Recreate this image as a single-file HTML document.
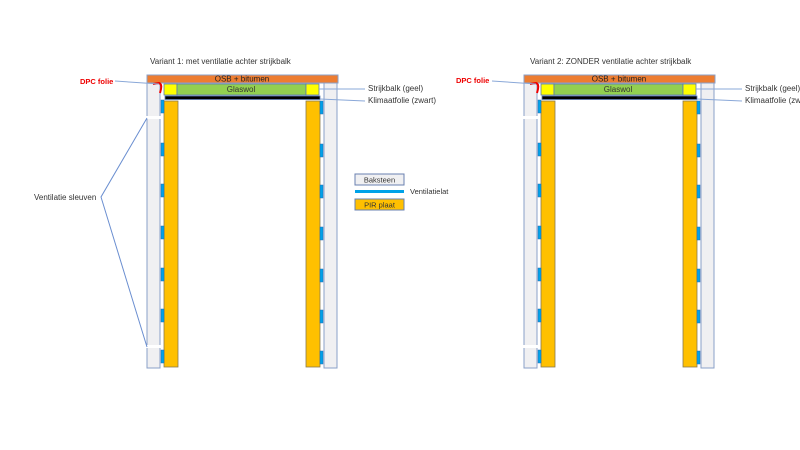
<!DOCTYPE html>
<html><head><style>body{margin:0;background:#fff}svg{display:block}text{font-family:"Liberation Sans",sans-serif}</style></head><body>
<svg width="800" height="450" viewBox="0 0 800 450" xmlns="http://www.w3.org/2000/svg">
<defs>
<g id="v">
<rect x="147" y="83" width="13" height="285" fill="#f0f0f2" stroke="#8aa0c8" stroke-width="1"/>
<rect x="324" y="83" width="13" height="285" fill="#f0f0f2" stroke="#8aa0c8" stroke-width="1"/>
<rect x="147" y="75" width="191" height="8" fill="#ed7d31" stroke="#8aa0c8" stroke-width="1"/>
<rect x="164" y="84" width="13" height="11" fill="#ffff00" stroke="#5a7ab0" stroke-width="0.8"/>
<rect x="177" y="84" width="129" height="11" fill="#92d050" stroke="#5a7ab0" stroke-width="0.8"/>
<rect x="306" y="84" width="13" height="11" fill="#ffff00" stroke="#5a7ab0" stroke-width="0.8"/>
<rect x="165" y="96" width="155" height="3.5" fill="#000" stroke="#5a7ab0" stroke-width="0.8"/>
<rect x="164" y="101" width="14" height="266" fill="#ffc000" stroke="#8a7a50" stroke-width="0.8"/>
<rect x="306" y="101" width="14" height="266" fill="#ffc000" stroke="#8a7a50" stroke-width="0.8"/>
<g fill="#00a2e8" stroke="#2a6ab0" stroke-width="0.5">
<rect x="161" y="100" width="3" height="13"/><rect x="161" y="143" width="3" height="13"/><rect x="161" y="184" width="3" height="13"/><rect x="161" y="226" width="3" height="13"/><rect x="161" y="268" width="3" height="13"/><rect x="161" y="309" width="3" height="13"/><rect x="161" y="350" width="3" height="13"/>
<rect x="320" y="101" width="3" height="13"/><rect x="320" y="144" width="3" height="13"/><rect x="320" y="185" width="3" height="13"/><rect x="320" y="227" width="3" height="13"/><rect x="320" y="269" width="3" height="13"/><rect x="320" y="310" width="3" height="13"/><rect x="320" y="351" width="3" height="13"/>
</g>
<rect x="146" y="116" width="16" height="3" fill="#fff"/>
<rect x="146" y="345" width="16" height="3" fill="#fff"/>
<path d="M153 84 L159 83 Q162 84 161 89 L160 93" fill="none" stroke="#e00" stroke-width="2"/>
<line x1="115" y1="81" x2="159" y2="84" stroke="#8aa8d8" stroke-width="1"/>
<line x1="319" y1="89" x2="365" y2="89" stroke="#8aa8d8" stroke-width="1"/>
<line x1="320" y1="99" x2="365" y2="101" stroke="#8aa8d8" stroke-width="1"/>
</g>
</defs>
<use href="#v"/>
<use href="#v" transform="translate(377,0)"/>
<polyline points="147,118 101,197 147,347" fill="none" stroke="#6a8ed0" stroke-width="1"/>
<g font-size="8" fill="#333">
<text x="150" y="64">Variant 1: met ventilatie achter strijkbalk</text>
<text x="530" y="64">Variant 2: ZONDER ventilatie achter strijkbalk</text>
<text x="242" y="81.5" text-anchor="middle" fill="#222">OSB + bitumen</text>
<text x="619" y="81.5" text-anchor="middle" fill="#222">OSB + bitumen</text>
<text x="241" y="92" text-anchor="middle">Glaswol</text>
<text x="618" y="92" text-anchor="middle">Glaswol</text>
<text x="368" y="91">Strijkbalk (geel)</text>
<text x="368" y="103">Klimaatfolie (zwart)</text>
<text x="745" y="91">Strijkbalk (geel)</text>
<text x="745" y="103">Klimaatfolie (zwart)</text>
<text x="34" y="200">Ventilatie sleuven</text>
<text x="80" y="84" fill="#e00" font-weight="bold" font-size="7.5">DPC folie</text>
<text x="456" y="83" fill="#e00" font-weight="bold" font-size="7.5">DPC folie</text>
</g>
<rect x="355" y="174" width="49" height="11" fill="#f0f0f2" stroke="#6a80b0" stroke-width="1"/>
<text x="379.5" y="182.5" font-size="7.5" text-anchor="middle" fill="#333">Baksteen</text>
<rect x="355" y="190" width="49" height="3" fill="#00a2e8"/>
<text x="410" y="194" font-size="7.5" fill="#333">Ventilatielat</text>
<rect x="355" y="199" width="49" height="11" fill="#ffc000" stroke="#6a80b0" stroke-width="1"/>
<text x="379.5" y="207.5" font-size="7.5" text-anchor="middle" fill="#333">PIR plaat</text>
</svg>
</body></html>
